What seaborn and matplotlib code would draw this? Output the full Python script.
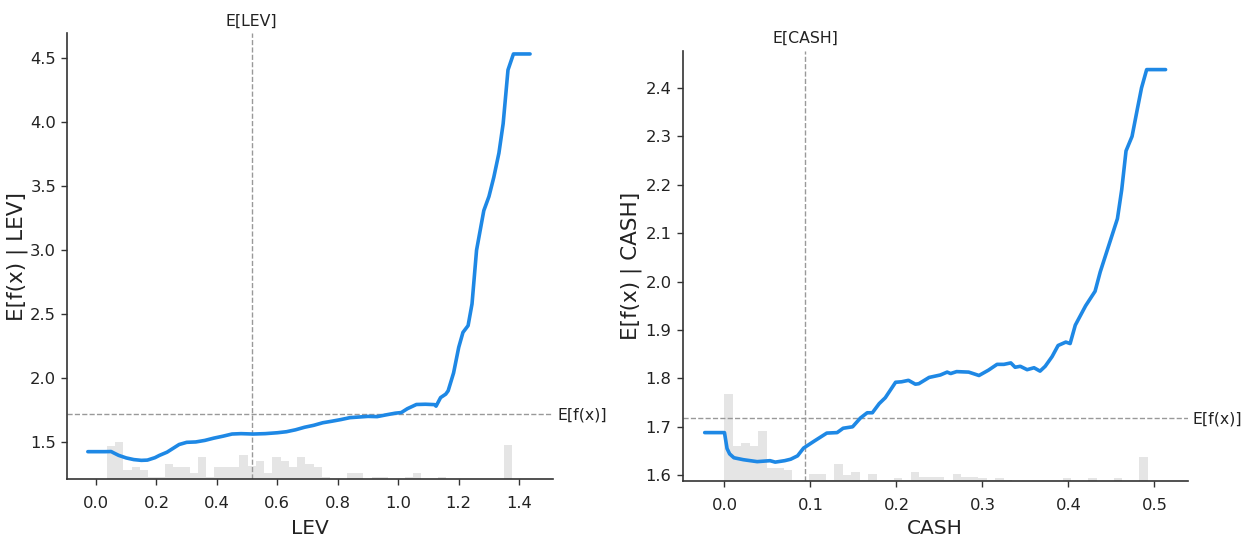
import numpy as np
import pandas as pd
import matplotlib
matplotlib.use("Agg")
import matplotlib.pyplot as plt
import seaborn as sns

# ---------------- data ----------------
lev_x = [-0.027, 0.0, 0.03, 0.05, 0.058, 0.075, 0.10, 0.125, 0.15, 0.17, 0.195, 0.21, 0.235,
         0.255, 0.275, 0.30, 0.33, 0.36, 0.39, 0.42, 0.45, 0.48, 0.52, 0.56, 0.60, 0.63, 0.66,
         0.69, 0.72, 0.75, 0.78, 0.81, 0.84, 0.87, 0.90, 0.93, 0.96, 0.99, 1.01, 1.03, 1.06,
         1.09, 1.12, 1.125, 1.14, 1.157, 1.165, 1.183, 1.20, 1.214, 1.231, 1.244, 1.259, 1.283,
         1.30, 1.316, 1.333, 1.347, 1.363, 1.381, 1.436]
lev_y = [1.424, 1.424, 1.424, 1.425, 1.415, 1.395, 1.375, 1.362, 1.356, 1.358, 1.377, 1.395, 1.42,
         1.45, 1.48, 1.497, 1.50, 1.512, 1.53, 1.545, 1.562, 1.565, 1.562, 1.565, 1.572, 1.58, 1.595,
         1.615, 1.63, 1.65, 1.662, 1.675, 1.69, 1.695, 1.70, 1.698, 1.712, 1.725, 1.73, 1.76, 1.793,
         1.795, 1.792, 1.78, 1.847, 1.874, 1.90, 2.04, 2.24, 2.357, 2.41, 2.58, 3.0, 3.31,
         3.42, 3.57, 3.76, 3.99, 4.41, 4.535, 4.535]

cash_x = [-0.023, 0.0, 0.003, 0.006, 0.011, 0.022, 0.038, 0.053, 0.059, 0.070, 0.077, 0.085,
          0.092, 0.104, 0.119, 0.131, 0.138, 0.149, 0.158, 0.166, 0.172, 0.180, 0.187, 0.199,
          0.206, 0.214, 0.222, 0.226, 0.238, 0.251, 0.259, 0.263, 0.270, 0.284, 0.296, 0.307,
          0.317, 0.325, 0.333, 0.338, 0.344, 0.352, 0.360, 0.367, 0.373, 0.381, 0.388, 0.397,
          0.402, 0.408, 0.420, 0.431, 0.437, 0.447, 0.457, 0.462, 0.467, 0.474, 0.480, 0.485,
          0.491, 0.513]
cash_y = [1.688, 1.688, 1.655, 1.644, 1.636, 1.632, 1.628, 1.630, 1.627, 1.630, 1.633, 1.640,
          1.656, 1.670, 1.687, 1.688, 1.697, 1.700, 1.718, 1.729, 1.729, 1.748, 1.760, 1.792,
          1.793, 1.796, 1.788, 1.789, 1.802, 1.807, 1.813, 1.810, 1.814, 1.813, 1.806, 1.817,
          1.829, 1.829, 1.832, 1.823, 1.825, 1.818, 1.822, 1.815, 1.825, 1.845, 1.868, 1.875,
          1.872, 1.91, 1.95, 1.98, 2.02, 2.075, 2.13, 2.19, 2.27, 2.30, 2.355, 2.40,
          2.438, 2.438]

lev_hist_counts = [100, 113, 28, 36, 28, 8, 8, 46, 36, 36, 18, 66, 8, 38, 38, 38, 73, 40, 56, 18,
                   66, 56, 36, 66, 46, 36, 8, 2, 2, 20, 20, 2, 8, 8, 2, 2, 8, 18, 2, 2, 8, 2, 2,
                   0, 0, 0, 0, 0, 102]
lev_hist_range = (0.036, 1.377)
lev_n_total = 1338

cash_hist_counts = [262, 105, 115, 105, 150, 38, 38, 32, 4, 4, 20, 20, 4, 50, 18, 26, 2, 20, 2, 2,
                    9, 2, 28, 11, 11, 11, 2, 21, 11, 11, 9, 2, 9, 2, 0, 0, 0, 0, 0, 0, 9, 0, 0,
                    9, 0, 0, 9, 0, 0, 72]
cash_hist_range = (0.0, 0.492)
cash_n_total = 1291

lev_mean = 0.515
cash_mean = 0.094
expected_value = 1.719

lev_xticks = [0.0, 0.2, 0.4, 0.6, 0.8, 1.0, 1.2, 1.4]
lev_yticks = [1.5, 2.0, 2.5, 3.0, 3.5, 4.0, 4.5]
cash_xticks = [0.0, 0.1, 0.2, 0.3, 0.4, 0.5]
cash_yticks = [1.6, 1.7, 1.8, 1.9, 2.0, 2.1, 2.2, 2.3, 2.4]

# ---------------- style ----------------
sns.set_theme(style="ticks")
plt.rcParams['font.family'] = ['DejaVu Sans']

LINE = "#1E88E5"
GRID = "#999999"
TXT = "#222222"

fig = plt.figure(figsize=(12.46, 5.39), dpi=100)
ax_l = fig.add_axes([0.0540, 0.1108, 0.3896, 0.8275])
ax_r = fig.add_axes([0.5479, 0.1076, 0.4055, 0.7983])


def draw(ax, xs, ys, counts, hrange, n_total, mean_x, name, xlim, ylim, xticks, yticks,
         xlabel_y, ylabel_x):
    # histogram on twin axis
    axh = ax.twinx()
    edges = np.linspace(hrange[0], hrange[1], len(counts) + 1)
    axh.bar(edges[:-1], counts, width=np.diff(edges), align="edge",
            color="black", alpha=0.1, linewidth=0)
    axh.set_ylim(0, n_total)
    axh.set_yticks([])
    for s in axh.spines.values():
        s.set_visible(False)

    ax.set_zorder(axh.get_zorder() + 2)
    ax.patch.set_visible(False)

    df = pd.DataFrame({"x": xs, "y": ys})
    sns.lineplot(data=df, x="x", y="y", ax=ax, color=LINE, linewidth=2.6,
                 sort=False, estimator=None, zorder=3)
    ax.axvline(mean_x, color=GRID, linestyle="--", linewidth=1, zorder=1)
    ax.axhline(expected_value, color=GRID, linestyle="--", linewidth=1, zorder=1)

    ax.set_xlim(*xlim)
    ax.set_ylim(*ylim)
    ax.set_xticks(xticks)
    ax.set_yticks(yticks)
    ax.set_xticklabels([f"{t:.1f}" for t in xticks])
    ax.set_yticklabels([f"{t:.1f}" for t in yticks])
    ax.tick_params(axis="x", length=4.5, width=1, pad=7.5, labelsize=11.8, colors="#333333",
                   labelcolor=TXT)
    ax.tick_params(axis="y", length=4.5, width=1, pad=3.5, labelsize=11.8, colors="#333333",
                   labelcolor=TXT)
    for side in ["top", "right"]:
        ax.spines[side].set_visible(False)
    for side in ["left", "bottom"]:
        ax.spines[side].set_color("#333333")
        ax.spines[side].set_linewidth(1.2)

    ax.set_xlabel(name, fontsize=14.5, color=TXT)
    ax.set_ylabel(f"E[f(x) | {name}]", fontsize=15.5, color=TXT)
    ax.xaxis.set_label_coords(0.5, xlabel_y)
    ax.yaxis.set_label_coords(ylabel_x, 0.5)

    # E[feature] label on top
    axt = ax.twiny()
    axt.set_xlim(*xlim)
    axt.set_xticks([mean_x])
    axt.set_xticklabels([f"E[{name}]"], fontsize=11.3, color=TXT)
    axt.tick_params(axis="x", length=0, pad=3.5)
    for s in axt.spines.values():
        s.set_visible(False)

    # E[f(x)] label on right
    axr = ax.twinx()
    axr.set_ylim(*ylim)
    axr.set_yticks([expected_value])
    axr.set_yticklabels(["E[f(x)]"], fontsize=11.3, color=TXT)
    axr.tick_params(axis="y", length=0, pad=3.5)
    for s in axr.spines.values():
        s.set_visible(False)


draw(ax_l, lev_x, lev_y, lev_hist_counts, lev_hist_range, lev_n_total, lev_mean, "LEV",
     (-0.095, 1.511), (1.208, 4.697), lev_xticks, lev_yticks, -0.088, -0.081)
draw(ax_r, cash_x, cash_y, cash_hist_counts, cash_hist_range, cash_n_total, cash_mean, "CASH",
     (-0.0486, 0.539), (1.588, 2.477), cash_xticks, cash_yticks, -0.088, -0.0805)

fig.savefig("out.png", dpi=100)
